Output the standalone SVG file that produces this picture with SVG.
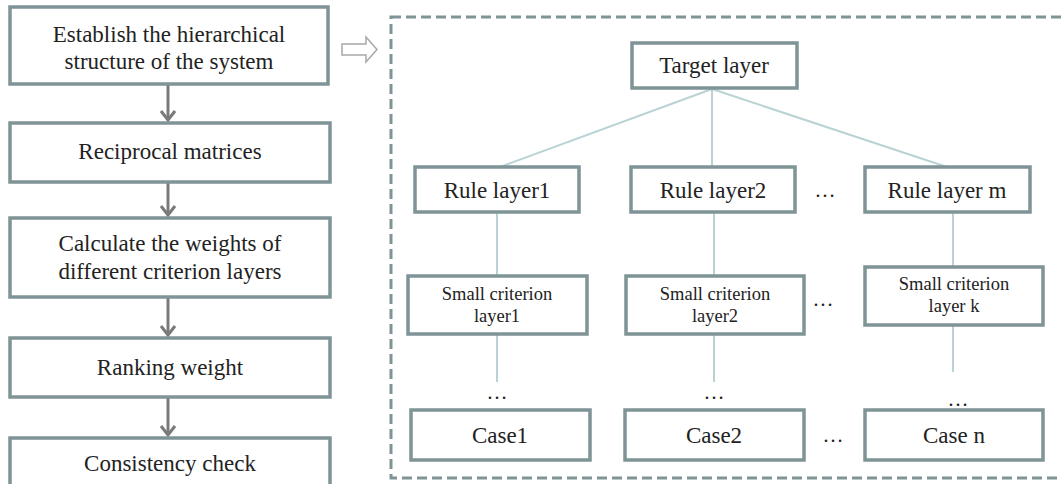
<svg xmlns="http://www.w3.org/2000/svg" width="1061" height="484" viewBox="0 0 1061 484">
<defs>
<style>
.box{fill:#fff;stroke:#7f9496;stroke-width:3.5}
.t{fill:#222;text-anchor:middle}
.big{font-size:23px}
.mid{font-size:23px}
.sm{font-size:18.5px}
.dt{font-size:21px}
.ln{stroke:#b9d2d3;stroke-width:2;fill:none}
.arr{stroke:#7a7a7a;stroke-width:3;fill:none}
</style>
<marker id="ah" viewBox="0 0 16 16" refX="14" refY="8" markerWidth="16" markerHeight="16" markerUnits="userSpaceOnUse" orient="auto">
<path d="M5,1 L14,8 L5,15" fill="none" stroke="#7a7a7a" stroke-width="3"/>
</marker>
</defs>
<rect width="1061" height="484" fill="#fff"/>
<g id="connectors">
<line class="arr" x1="168" y1="85" x2="168" y2="120" marker-end="url(#ah)"/>
<line class="arr" x1="168" y1="183" x2="168" y2="215" marker-end="url(#ah)"/>
<line class="arr" x1="168" y1="298" x2="168" y2="335" marker-end="url(#ah)"/>
<line class="arr" x1="168" y1="398" x2="168" y2="435" marker-end="url(#ah)"/>
<path d="M342,44 H366 V37 L377,49.5 L366,62 V55 H342 Z" fill="#fff" stroke="#a8a8a8" stroke-width="1.5"/>
<line class="ln" x1="712" y1="89" x2="500" y2="167"/>
<line class="ln" x1="712" y1="89" x2="712" y2="167"/>
<line class="ln" x1="712" y1="89" x2="947" y2="167"/>
<line class="ln" x1="497" y1="213" x2="497" y2="276"/>
<line class="ln" x1="714" y1="213" x2="714" y2="276"/>
<line class="ln" x1="953" y1="213" x2="953" y2="267"/>
<line class="ln" x1="497" y1="335" x2="497" y2="382"/>
<line class="ln" x1="714" y1="335" x2="714" y2="382"/>
<line class="ln" x1="953" y1="326" x2="953" y2="372"/>
</g>
<rect x="391" y="17" width="680" height="461" fill="none" stroke="#7f9496" stroke-width="3" stroke-dasharray="10,5"/>
<g font-family="'Liberation Serif', 'Times New Roman', Times, serif">
<g id="n1"><rect class="box" x="10" y="7" width="318" height="77"/><text class="t big" x="169" y="42">Establish the hierarchical</text><text class="t big" x="169" y="69">structure of the system</text></g>
<g id="n2"><rect class="box" x="10" y="123" width="320" height="59"/><text class="t big" x="170" y="159">Reciprocal matrices</text></g>
<g id="n3"><rect class="box" x="10" y="218" width="320" height="79"/><text class="t big" x="170" y="251">Calculate the weights of</text><text class="t big" x="170" y="279">different criterion layers</text></g>
<g id="n4"><rect class="box" x="10" y="338" width="320" height="59"/><text class="t big" x="170" y="375">Ranking weight</text></g>
<g id="n5"><rect class="box" x="10" y="438" width="320" height="60"/><text class="t big" x="170" y="471">Consistency check</text></g>
<g id="target"><rect class="box" x="632" y="43" width="165" height="45"/><text class="t mid" x="714" y="73">Target layer</text></g>
<g id="rule1"><rect class="box" x="415" y="167" width="164" height="45"/><text class="t mid" x="497" y="198">Rule layer1</text></g>
<g id="rule2"><rect class="box" x="631" y="167" width="164" height="45"/><text class="t mid" x="713" y="198">Rule layer2</text></g>
<g id="rulem"><rect class="box" x="865" y="167" width="165" height="45"/><text class="t mid" x="947" y="198">Rule layer m</text></g>
<g id="small1"><rect class="box" x="408" y="276" width="179" height="58"/><text class="t sm" x="497" y="300">Small criterion</text><text class="t sm" x="497" y="322">layer1</text></g>
<g id="small2"><rect class="box" x="626" y="276" width="178" height="58"/><text class="t sm" x="715" y="300">Small criterion</text><text class="t sm" x="715" y="322">layer2</text></g>
<g id="smallk"><rect class="box" x="865" y="267" width="178" height="58"/><text class="t sm" x="954" y="290">Small criterion</text><text class="t sm" x="954" y="312">layer k</text></g>
<g id="case1"><rect class="box" x="411" y="410" width="179" height="50"/><text class="t mid" x="500" y="443">Case1</text></g>
<g id="case2"><rect class="box" x="625" y="410" width="179" height="50"/><text class="t mid" x="714" y="443">Case2</text></g>
<g id="casen"><rect class="box" x="865" y="410" width="178" height="50"/><text class="t mid" x="954" y="443">Case n</text></g>
<g id="dots">
<text class="t dt" x="825" y="197">…</text>
<text class="t dt" x="823" y="306">…</text>
<text class="t dt" x="833" y="442">…</text>
<text class="t dt" x="497" y="399">…</text>
<text class="t dt" x="714" y="399">…</text>
<text class="t dt" x="958" y="406">…</text>
</g>
</g>
</svg>
